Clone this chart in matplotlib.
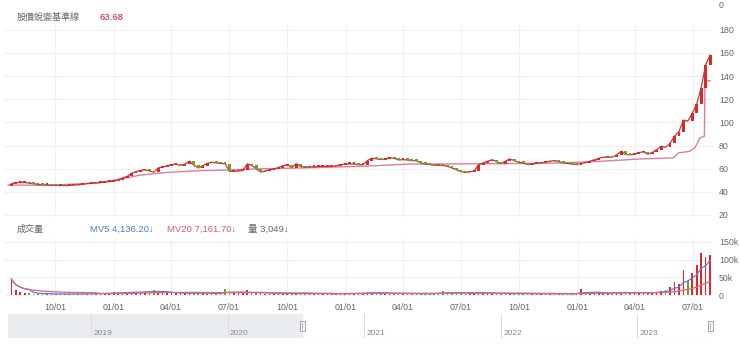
import pandas as pd
import matplotlib.pyplot as plt
import matplotlib.dates as mdates
from matplotlib.patches import Rectangle

plt.rcParams['font.family'] = ['Liberation Sans', 'Noto Sans CJK TC', 'DejaVu Sans']

# 週資料
weeks = pd.date_range('2020-07-24', periods=158, freq='7D')
close = [
    47.0, 48.0, 48.0, 48.0, 47.5, 47.0, 46.5, 46.0, 46.0, 45.8,
    45.5, 45.5, 45.3, 45.5, 45.8, 46.0, 46.5, 47.0, 47.3, 47.6,
    48.0, 48.4, 48.8, 49.2, 50.5, 52.0, 53.3, 56.0, 57.5, 58.5,
    59.0, 58.0, 57.0, 60.6, 61.5, 62.5, 63.5, 64.0, 62.6, 64.0,
    66.4, 63.0, 60.6, 62.6, 64.5, 65.5, 65.0, 64.5, 64.3, 57.7,
    57.7, 58.0, 58.5, 64.1, 63.0, 60.0, 57.0, 58.0, 59.0, 59.7,
    61.0, 62.5, 63.5, 61.0, 64.3, 62.0, 61.2, 61.5, 61.5, 61.8,
    62.0, 62.0, 62.0, 62.5, 63.5, 64.0, 64.0, 64.0, 63.5, 63.5,
    67.0, 69.0, 68.5, 67.8, 68.5, 69.5, 69.0, 67.5, 67.8, 67.5,
    67.0, 66.9, 65.0, 64.0, 63.5, 63.0, 63.0, 62.9, 62.0, 60.6,
    59.0, 57.5, 56.8, 57.2, 58.0, 63.5, 65.0, 66.4, 67.8, 66.0,
    64.3, 66.5, 68.4, 67.0, 65.5, 65.0, 63.5, 64.0, 64.5, 65.0,
    65.5, 66.5, 66.9, 66.0, 65.0, 64.5, 64.0, 63.5, 64.5, 65.2,
    66.5, 67.8, 69.0, 69.9, 70.0, 69.9, 72.0, 75.0, 72.2, 72.0,
    72.5, 74.0, 74.5, 72.5, 74.0, 76.5, 79.4, 78.5, 82.0, 88.0,
    92.0, 102.0, 101.0, 108.0, 116.0, 130.0, 150.0, 158.0,
]
first_open = 45.0
volume = [
    45000, 14000, 8000, 6000, 5000, 4500, 4000, 3500, 3500, 3000,
    3000, 3500, 3000, 3000, 3500, 3000, 3500, 4000, 4000, 4500,
    5000, 6000, 5500, 8000, 7000, 6500, 8500, 10000, 9000, 8000,
    9500, 12000, 14000, 9000, 7000, 6000, 5500, 5000, 6000, 5000,
    5500, 7000, 6000, 5000, 4500, 4000, 4500, 5000, 18000, 9000,
    6000, 5000, 5500, 14000, 8000, 6000, 5000, 4500, 4500, 4000,
    4500, 5000, 4500, 4000, 5000, 4500, 4000, 3500, 3500, 3500,
    4000, 3500, 4000, 4000, 4500, 5000, 4500, 5000, 6000, 5500,
    9000, 7000, 6000, 5500, 5000, 6000, 5000, 4500, 4000, 4000,
    3500, 3500, 4000, 4000, 4500, 5000, 5500, 12000, 6000, 5500,
    6000, 7000, 6500, 8000, 6000, 9000, 6000, 5000, 5500, 4500,
    4000, 4500, 5000, 4000, 3500, 3500, 3500, 3500, 4000, 4000,
    4500, 4000, 4000, 3500, 3500, 3500, 4000, 5000, 16000, 7000,
    5500, 6000, 7500, 6500, 6000, 7000, 8000, 9000, 7000, 6000,
    6500, 7000, 6000, 6500, 8000, 9000, 12000, 15000, 22000, 37000,
    30000, 71000, 40000, 62000, 85000, 120000, 108000, 113000,
]

# 股價蛻變基準線
base_dates = pd.to_datetime([
    '2020-07-19', '2020-09-23', '2020-12-11', '2021-01-11', '2021-02-12',
    '2021-03-26', '2021-05-17', '2021-06-25', '2021-08-04', '2021-10-21',
    '2022-01-24', '2022-04-12', '2022-09-01', '2022-12-04', '2023-02-05',
    '2023-04-09', '2023-05-31', '2023-06-08', '2023-06-26', '2023-07-04',
    '2023-07-12', '2023-07-19', '2023-07-20', '2023-07-28',
])
base_vals = [
    46.0, 45.5, 48.0, 51.0, 54.5, 56.8, 58.3, 58.8, 59.7, 60.6,
    62.0, 64.0, 64.3, 64.9, 66.4, 68.4, 69.3, 73.6, 75.0, 78.0,
    86.7, 88.0, 136.0, 136.0,
]

price_ticks = [20, 40, 60, 80, 100, 120, 140, 160, 180]
vol_ticks = [0, 50000, 100000, 150000]
vol_labels = ['0', '50k', '100k', '150k']
quarters = pd.date_range('2020-10-01', '2023-07-01', freq='QS')
nav_years = pd.to_datetime(['2019-01-01', '2020-01-01', '2021-01-01', '2022-01-01', '2023-01-01'])

up_c = '#e0262b'
down_c = '#6fa02c'
grid_c = '#f0f0f0'
txt_c = '#666666'

W, H = 740, 347
fig = plt.figure(figsize=(W / 100, H / 100), dpi=100)


def box(x0, y0, x1, y1):
    return [x0 / W, 1 - y1 / H, (x1 - x0) / W, (y1 - y0) / H]


ax = fig.add_axes(box(5, 24, 712, 218))
axv = fig.add_axes(box(5, 238, 712, 296))
axn = fig.add_axes(box(8, 314, 710, 338))

opens = [first_open] + close[:-1]
lows = [min(o, c) for o, c in zip(opens, close)]
hts = [max(abs(c - o), 1.4) for o, c in zip(opens, close)]
cols = [up_c if c >= o else down_c for o, c in zip(opens, close)]

xmin, xmax = pd.Timestamp('2020-07-14'), pd.Timestamp('2023-07-31')

# 價格
ax.plot(base_dates, base_vals, color='#d9809f', lw=1, zorder=2)
ax.plot(weeks, close, color='#b8402e', lw=0.9, zorder=2.5)
ax.bar(weeks, hts, bottom=lows, width=4.5, color=cols, zorder=3)
ax.set_xlim(xmin, xmax)
ax.set_ylim(17.4, 185)
ax.set_yticks(price_ticks)
ax.set_xticks(quarters)
ax.tick_params(axis='x', labelbottom=False, length=0)
ax.tick_params(axis='y', left=False, labelleft=False, right=False, labelright=True,
               length=0, pad=5, labelsize=6.3, labelcolor=txt_c)
ax.grid(True, color=grid_c, lw=0.8)
for s in ax.spines.values():
    s.set_visible(False)

# 成交量
vol_s = pd.Series(volume, index=weeks)
axv.bar(weeks, volume, width=2.5, color=cols, zorder=3)
axv.plot(weeks, vol_s.rolling(5, min_periods=1).mean(), color='#5b7fd4', lw=0.9, zorder=4)
axv.plot(weeks, vol_s.rolling(20, min_periods=1).mean(), color='#d9667f', lw=0.9, zorder=4)
axv.set_xlim(xmin, xmax)
axv.set_ylim(-2500, 161000)
axv.set_yticks(vol_ticks)
axv.set_yticklabels(vol_labels)
axv.set_xticks(quarters)
axv.xaxis.set_major_formatter(mdates.DateFormatter('%m/%d'))
axv.tick_params(axis='x', length=0, pad=5, labelsize=6.3, labelcolor=txt_c)
axv.tick_params(axis='y', left=False, labelleft=False, right=False, labelright=True,
                length=0, pad=5, labelsize=6.3, labelcolor=txt_c)
axv.grid(True, color=grid_c, lw=0.8)
for s in axv.spines.values():
    s.set_visible(False)

# 導覽列
nav_min, nav_max = pd.Timestamp('2018-05-24'), pd.Timestamp('2023-07-14')
axn.set_xlim(nav_min, nav_max)
axn.set_ylim(0, 1)
axn.axvspan(nav_min, pd.Timestamp('2020-07-17'), color='#e9edf0', zorder=1)
for d in nav_years:
    axn.axvline(d, color='#dcdcdc', lw=0.7, zorder=2)
    axn.text(d + pd.Timedelta(days=6), 0.12, str(d.year), fontsize=6, color='#888888', zorder=3)
axn.axhline(0, color='#cccccc', lw=0.8)
axn.set_xticks([])
axn.set_yticks([])
for s in axn.spines.values():
    s.set_visible(False)
for hx in (302, 710):
    fig.patches.append(Rectangle(((hx - 2.5) / W, 1 - 331 / H), 5 / W, 10 / H,
                                 transform=fig.transFigure, facecolor='#f4f4f4',
                                 edgecolor='#999999', lw=0.6, zorder=5))
    fig.lines.append(plt.Line2D([hx / W, hx / W], [1 - 329 / H, 1 - 323 / H],
                                transform=fig.transFigure, color='#999999', lw=0.5, zorder=6))

# 標題文字
fig.text(17 / W, 1 - 17 / H, '股價蛻變基準線', fontsize=6.5, color=txt_c, va='center')
fig.text(100 / W, 1 - 17 / H, '63.68', fontsize=6.8, color='#c8577f', va='center', fontweight='bold')
fig.text(719 / W, 1 - 5 / H, '0', fontsize=6.3, color=txt_c, va='center')
fig.text(17 / W, 1 - 229 / H, '成交量', fontsize=6.5, color=txt_c, va='center')
fig.text(90 / W, 1 - 229 / H, 'MV5 4,136.20↓', fontsize=6.8, color='#4f79cf', va='center')
fig.text(167 / W, 1 - 229 / H, 'MV20 7,161.70↓', fontsize=6.8, color='#d4577c', va='center')
fig.text(248 / W, 1 - 229 / H, '量 3,049↓', fontsize=6.8, color=txt_c, va='center')

fig.savefig('out.png', dpi=100)
